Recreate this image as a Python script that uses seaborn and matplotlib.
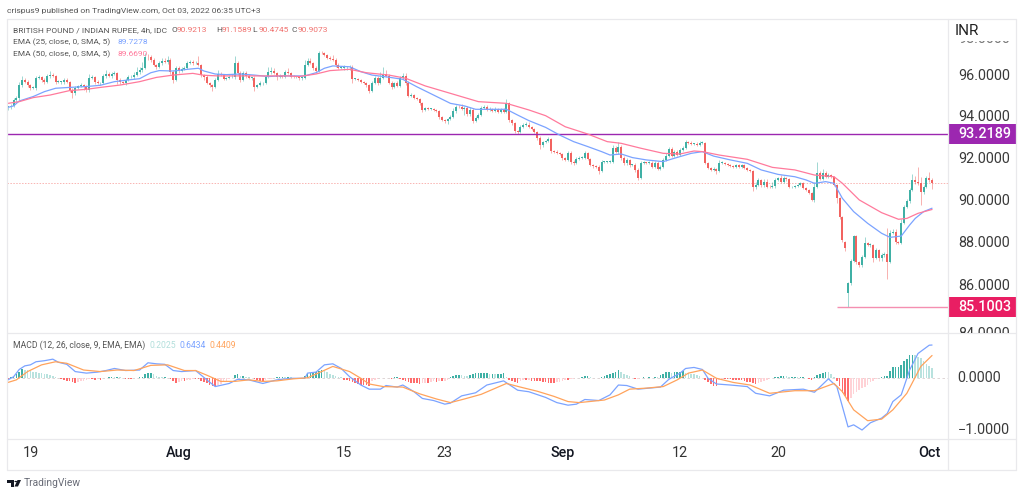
import seaborn as sns
import matplotlib.pyplot as plt
from matplotlib.lines import Line2D
from matplotlib.patches import Polygon, Circle, Rectangle
from matplotlib.transforms import Bbox

# candle closes (4h candles, left to right)
closes = [
    94.50, 94.54, 94.82, 94.90, 95.52, 95.76, 95.68, 95.52, 95.37, 95.37,
    95.84, 95.88, 95.76, 95.68, 95.95, 95.99, 95.95, 95.68, 95.68, 95.68,
    95.76, 95.68, 95.29, 95.16, 95.37, 95.48, 95.52, 95.41, 95.29, 95.84,
    95.88, 95.68, 95.60, 95.60, 95.95, 96.04, 95.95, 96.04, 96.07, 95.76,
    95.68, 95.60, 95.76, 95.88, 95.92, 95.99, 96.15, 96.23, 96.31, 96.86,
    96.82, 96.70, 96.46, 96.39, 96.54, 96.67, 96.62, 96.70, 96.15, 95.76,
    96.31, 96.20, 96.26, 96.31, 96.54, 96.62, 96.54, 96.54, 96.46, 96.00,
    95.88, 95.60, 95.52, 95.41, 95.76, 96.04, 95.99, 95.79, 95.84, 95.88,
    95.92, 96.54, 96.07, 95.76, 96.07, 95.95, 95.84, 95.84, 95.45, 95.52,
    95.60, 95.60, 95.88, 96.15, 96.20, 96.07, 95.88, 95.95, 95.88, 96.15,
    96.10, 95.92, 95.88, 95.88, 95.84, 95.84, 96.46, 96.67, 96.54, 96.31,
    96.20, 97.04, 97.01, 96.94, 96.78, 96.73, 96.70, 96.46, 96.31, 96.31,
    96.35, 96.35, 96.38, 95.79, 95.79, 95.76, 95.68, 95.63, 95.52, 95.26,
    95.63, 95.84, 95.60, 95.84, 96.04, 95.95, 95.63, 95.44, 95.60, 95.48,
    95.84, 95.95, 95.60, 95.00, 95.05, 94.93, 94.85, 94.66, 94.35, 94.43,
    94.38, 94.38, 94.35, 94.32, 94.03, 93.88, 93.85, 93.91, 94.03, 94.30,
    94.50, 94.47, 94.38, 94.43, 94.16, 94.35, 93.85, 93.96, 94.11, 94.43,
    94.47, 94.35, 94.38, 94.32, 94.38, 94.27, 94.35, 94.27, 94.66, 93.88,
    93.75, 93.38, 93.33, 93.53, 93.64, 93.66, 93.56, 93.44, 93.33, 93.02,
    92.70, 92.86, 92.91, 92.97, 92.42, 92.39, 92.31, 92.28, 92.08, 92.00,
    92.31, 91.92, 91.87, 92.03, 92.08, 92.08, 92.31, 92.03, 91.76, 91.72,
    91.65, 91.50, 91.92, 91.92, 91.92, 91.92, 92.55, 92.39, 92.63, 92.08,
    91.84, 92.00, 91.76, 91.76, 91.53, 91.14, 91.84, 91.87, 91.84, 91.84,
    91.65, 91.84, 91.56, 91.68, 92.00, 92.19, 92.50, 92.19, 92.39, 92.23,
    92.47, 92.55, 92.86, 92.81, 92.75, 92.75, 92.70, 92.78, 92.81, 91.84,
    91.61, 91.53, 91.56, 91.50, 91.87, 91.87, 91.79, 91.76, 91.71, 91.68,
    91.76, 91.65, 91.76, 91.61, 91.53, 91.50, 90.71, 90.82, 91.06, 90.82,
    90.98, 90.74, 90.71, 90.77, 91.06, 91.13, 90.98, 91.13, 91.09, 90.71,
    90.71, 90.77, 90.82, 90.90, 90.67, 90.59, 90.43, 90.12, 90.74, 91.37,
    91.09, 91.37, 91.21, 91.29, 91.21, 90.82, 90.19, 89.33, 88.24, 87.84,
    86.23, 87.26, 88.42, 87.22, 87.06, 87.45, 88.08, 88.00, 88.00, 87.37,
    87.77, 87.37, 87.53, 87.58, 87.22, 88.55, 88.63, 88.16, 88.08, 89.02,
    89.77, 90.08, 90.59, 91.06, 90.98, 90.90, 90.50, 90.74, 91.13, 91.06,
    90.91,
]

# wick lengths above and below the candle body
wick_up = [
    .05, .1, .1, .1, .15, .2, .1, .1, .05, .1,
    .1, .1, .05, .1, .1, .2, .1, .05, .1, .05,
    .1, .1, .05, .1, .1, .05, .1, .05, .1, .2,
    .1, .05, .1, .05, .1, .2, .1, .1, .1, .05,
    .1, .05, .1, .1, .05, .15, .2, .15, .3, .15,
    .1, .1, .1, .05, .1, .1, .1, .2, .1, .1,
    .1, .1, .1, .1, .1, .1, .1, .1, .35, .05,
    .05, .1, .05, .05, .1, .2, .1, .05, .05, .1,
    .1, .35, .1, .1, .1, .1, .1, .05, .1, .05,
    .1, .05, .1, .2, .15, .1, .05, .1, .05, .1,
    .15, .05, .05, .05, .05, .1, .25, .1, .1, .05,
    .1, .1, .1, .05, .05, .1, .2, .1, .1, .1,
    .1, .05, .1, .1, .05, .05, .05, .05, .05, .05,
    .1, .1, .1, .3, .35, .2, .1, .1, .05, .1,
    .1, .15, .15, .1, .1, .05, .05, .05, .05, .05,
    .05, .05, .05, .05, .05, .05, .05, .05, .1, .15,
    .1, .1, .15, .1, .1, .15, .1, .1, .1, .1,
    .1, .1, .1, .05, .1, .05, .1, .1, .2, .05,
    .05, .05, .05, .1, .1, .1, .1, .05, .05, .05,
    .1, .05, .05, .1, .05, .05, .1, .05, .05, .05,
    .1, .1, .1, .1, .1, .1, .1, .05, .05, .05,
    .05, .1, .1, .05, .05, .1, .15, .1, .2, .05,
    .1, .1, .05, .05, .1, .1, .1, .1, .05, .1,
    .1, .1, .1, .1, .1, .15, .1, .1, .1, .1,
    .1, .1, .1, .05, .1, .05, .1, .1, .1, .05,
    .05, .05, .1, .05, .15, .1, .05, .05, .05, .05,
    .05, .05, .05, .05, .05, .05, .05, .15, .1, .05,
    .1, .1, .1, .2, .1, .05, .15, .1, .05, .05,
    .05, .05, .05, .05, .05, .05, .05, .05, .2, .55,
    .1, .2, .1, .1, .05, .05, .05, .05, .05, .05,
    .05, .1, .05, .05, .05, .1, .3, .05, .1, .05,
    .1, .05, .1, .1, 1.2, .15, .1, .1, .05, .2,
    .1, .1, .1, .3, .2, .7, .3, .1, .1, .3,
    .1,
]
wick_down = [
    .15, .1, .05, .1, .1, .1, .05, .1, .1, .05,
    .1, .05, .1, .1, .05, .1, .05, .1, .05, .1,
    .1, .05, .1, .25, .1, .05, .05, .1, .1, .1,
    .05, .1, .05, .1, .05, .1, .05, .1, .05, .2,
    .1, .05, .1, .05, .05, .1, .05, .1, .1, .05,
    .1, .1, .05, .1, .05, .1, .05, .1, .1, .15,
    .05, .1, .05, .05, .05, .05, .1, .05, .05, .1,
    .1, .05, .1, .15, .05, .05, .05, .05, .05, .05,
    .05, .1, .1, .1, .05, .1, .05, .1, .2, .05,
    .05, .1, .05, .05, .1, .05, .1, .05, .05, .05,
    .05, .05, .05, .05, .1, .1, .05, .05, .05, .1,
    .1, .05, .05, .05, .05, .05, .05, .1, .05, .05,
    .1, .1, .1, .15, .05, .05, .05, .05, .1, .1,
    .05, .05, .1, .05, .05, .05, .05, .1, .05, .05,
    .05, .05, .1, .05, .05, .05, .05, .1, .1, .05,
    .05, .05, .05, .05, .1, .05, .1, .15, .05, .05,
    .1, .05, .05, .25, .1, .1, .1, .05, .05, .05,
    .05, .05, .05, .05, .05, .05, .05, .05, .05, .1,
    .1, .1, .1, .05, .05, .05, .05, .05, .05, .1,
    .2, .1, .05, .05, .1, .05, .05, .05, .1, .05,
    .05, .1, .1, .05, .05, .05, .05, .05, .05, .1,
    .05, .15, .05, .05, .05, .05, .05, .05, .1, .1,
    .1, .1, .1, .05, .1, .1, .05, .05, .05, .05,
    .05, .05, .05, .05, .05, .05, .05, .05, .05, .05,
    .05, .05, .05, .05, .05, .05, .05, .05, .05, .05,
    .05, .05, .05, .15, .05, .05, .05, .05, .05, .05,
    .05, .05, .05, .05, .05, .05, .15, .1, .05, .1,
    .1, .05, .05, .05, .1, .05, .05, .05, .1, .05,
    .05, .05, .05, .05, .05, .05, .05, .05, .1, .05,
    .05, .05, .05, .05, .05, .05, .2, .1, .1, .1,
    .63, .1, .05, .1, .1, .1, .05, .05, .1, .15,
    .05, .1, .1, .1, .8, .05, .05, .1, .05, .05,
    .05, .05, .1, .05, .1, .1, .6, .1, .05, .1,
    .3,
]

# bar of the MACD histogram for every candle
macd_hist = [
    -.01, .02, .03, .08, .13, .18, .17, .16, .14, .13,
    .12, .11, .10, .09, .08, .07, .05, .03, .01, -.02,
    -.03, -.05, -.06, -.08, -.09, -.08, -.06, -.05, -.04, -.02,
    -.02, -.03, -.02, -.03, .00, .01, .02, .03, .02, .03,
    .02, .01, -.01, -.01, -.01, .01, .01, .02, .03, .08,
    .10, .11, .08, .05, .03, .02, .02, .01, -.02, -.06,
    -.09, -.07, -.06, -.06, -.04, -.03, -.02, -.02, -.02, -.05,
    -.08, -.10, -.13, -.15, -.15, -.13, -.11, -.08, -.05, -.02,
    .01, .07, .08, .05, .05, .03, .02, .01, -.01, -.03,
    -.05, -.05, -.03, -.02, -.01, .01, .03, .03, .03, .02,
    .03, .02, .01, .00, .00, .00, .05, .08, .10, .11,
    .13, .15, .16, .14, .12, .09, .07, .05, .03, .02,
    -.03, -.04, -.05, -.08, -.10, -.11, -.13, -.13, -.13, -.14,
    -.05, -.03, -.02, .00, .01, .01, .00, -.01, .02, .02,
    -.01, -.03, -.05, -.07, -.09, -.10, -.10, -.11, -.10, -.09,
    -.09, -.07, -.06, -.07, -.06, -.06, -.05, -.03, .02, .05,
    .07, .07, .06, .05, .04, .06, .08, .10, .10, .10,
    .10, .10, .09, .09, .08, .08, .09, .10, .02, -.03,
    -.06, -.08, -.09, -.05, -.04, -.04, -.03, -.05, -.05, -.05,
    -.06, -.07, -.08, -.09, -.09, -.09, -.08, -.07, -.06, -.04,
    -.04, -.02, -.01, .00, .01, .03, .05, .05, .02, .01,
    .00, .00, .03, .05, .07, .09, .11, .13, .16, .12,
    .09, .06, .04, .01, -.02, -.01, .01, .02, .01, .02,
    .01, .03, .02, .06, .08, .12, .12, .11, .12, .13,
    .13, .15, .11, .10, .09, .08, .06, .04, .01, -.03,
    -.08, -.11, -.14, -.14, -.04, -.01, -.02, -.02, -.02, -.03,
    -.03, -.03, -.04, -.06, -.07, -.08, -.10, -.11, -.10, -.08,
    -.05, -.03, -.01, .00, .02, .03, .05, .05, .04, .03,
    .03, .03, .02, .02, .02, .01, -.01, -.03, .02, .06,
    .09, .11, .13, .12, .09, .02, -.05, -.15, -.28, -.35,
    -.43, -.38, -.30, -.26, -.22, -.19, -.16, -.12, -.08, -.05,
    -.02, .00, .02, .04, .05, .15, .21, .22, .22, .25,
    .33, .38, .45, .46, .45, .41, .39, .33, .28, .24,
    .2025,
]

# moving averages, read at the candle numbers in the *_idx lists
ema25_idx = [0, 2, 4, 9, 13, 17, 22, 28, 33, 38, 43, 47, 51, 54, 59, 64, 68, 70, 74, 78, 83, 88, 93, 97, 102,
             106, 110, 113, 116, 122, 126, 130, 136, 141, 146, 152, 158, 163, 167, 172, 178, 182, 186, 192,
             197, 202, 207, 212, 215, 219, 223, 228, 234, 238, 244, 248, 252, 258, 264, 269, 275, 281, 285,
             288, 292, 295, 298, 302, 307, 312, 315, 319, 322, 324, 327, 330]
ema25 = [94.47, 94.54, 94.77, 94.98, 95.21, 95.37, 95.41, 95.45, 95.51, 95.68, 95.76, 95.82, 96.10, 96.20, 96.18,
         96.26, 96.31, 96.18, 96.04, 96.01, 96.04, 95.99, 95.92, 95.95, 95.95, 95.95, 96.10, 96.31, 96.42, 96.38,
         96.15, 95.99, 95.89, 95.79, 95.44, 95.05, 94.66, 94.54, 94.38, 94.38, 94.38, 94.11, 93.85, 93.53, 93.17,
         92.86, 92.63, 92.39, 92.23, 92.28, 92.11, 92.00, 91.92, 92.08, 92.31, 92.39, 92.18, 92.00, 91.84, 91.53,
         91.32, 91.21, 91.06, 90.90, 90.98, 90.90, 90.19, 89.57, 89.02, 88.55, 88.36, 88.42, 88.94, 89.25, 89.57,
         89.73]
ema50_idx = [0, 4, 9, 15, 22, 28, 33, 40, 47, 53, 59, 66, 70, 75, 81, 88, 93, 100, 104, 110, 115, 122, 128, 136,
             142, 149, 158, 168, 178, 186, 192, 199, 207, 214, 219, 226, 234, 240, 245, 248, 254, 264, 273, 281,
             288, 295, 298, 304, 312, 318, 321, 325, 330]
ema50 = [94.66, 94.74, 94.93, 95.05, 95.26, 95.32, 95.41, 95.52, 95.68, 95.88, 95.99, 96.07, 95.98, 95.95, 95.95,
         95.95, 95.95, 95.95, 95.92, 96.04, 96.20, 96.26, 96.10, 95.99, 95.84, 95.48, 95.13, 94.74, 94.66, 94.35,
         94.08, 93.56, 93.22, 92.86, 92.78, 92.55, 92.31, 92.28, 92.42, 92.39, 92.23, 92.03, 91.65, 91.53, 91.29,
         91.21, 90.90, 90.12, 89.52, 89.21, 89.25, 89.49, 89.67]

macd_idx = [0, 2, 4, 6, 8, 10, 13, 16, 18, 21, 24, 28, 32, 35, 38, 42, 47, 50, 53, 56, 59, 62, 67, 71, 74, 79, 82,
            86, 91, 96, 101, 106, 107, 110, 113, 116, 119, 122, 126, 129, 133, 135, 139, 141, 145, 148, 152, 156,
            158, 162, 167, 171, 177, 182, 186, 192, 196, 200, 203, 206, 211, 215, 218, 221, 225, 233, 236, 240,
            242, 245, 248, 250, 253, 258, 264, 267, 272, 277, 284, 288, 293, 296, 298, 300, 302, 305, 308, 312,
            314, 316, 319, 322, 325, 329, 330]
macd_line = [-.03, .03, .17, .24, .26, .32, .34, .37, .31, .27, .13, .10, .12, .15, .19, .15, .16, .30, .28, .27,
             .15, .13, .15, -.03, -.16, -.10, -.02, -.03, -.10, -.03, .00, .00, .10, .12, .26, .28, .19, .03,
             -.13, -.21, -.21, -.14, -.17, -.13, -.26, -.39, -.43, -.50, -.48, -.34, -.28, -.13, -.05, -.23, -.26,
             -.37, -.47, -.52, -.50, -.41, -.43, -.32, -.13, -.14, -.21, -.17, -.02, .10, .19, .21, .17, .00, -.11,
             -.13, -.16, -.29, -.34, -.23, -.21, -.27, -.01, -.16, -.55, -.94, -.90, -1.00, -.86, -.77, -.68, -.45,
             -.32, .16, .48, .64, .6434]
signal_idx = [0, 3, 7, 12, 17, 21, 27, 33, 39, 45, 51, 57, 63, 67, 71, 76, 81, 86, 91, 96, 102, 107, 112, 116, 122,
              126, 129, 134, 141, 147, 153, 158, 163, 169, 175, 178, 183, 189, 195, 200, 204, 213, 218, 222, 228,
              234, 239, 243, 248, 253, 259, 265, 272, 281, 288, 295, 298, 302, 307, 312, 316, 321, 326, 330]
signal_line = [-.08, -.03, .13, .26, .32, .29, .16, .13, .16, .15, .25, .26, .15, .15, .06, -.06, -.06, -.03, -.06,
               -.05, -.01, .01, .13, .23, .13, .00, -.11, -.16, -.17, -.30, -.40, -.47, -.40, -.31, -.17, -.10,
               -.17, -.25, -.35, -.45, -.47, -.42, -.32, -.21, -.19, -.16, -.03, .10, .16, .00, -.08, -.13, -.29,
               -.24, -.24, -.10, -.26, -.61, -.82, -.79, -.61, -.29, .23, .4409]

price_labels = ['96.0000', '94.0000', '92.0000', '90.0000', '88.0000', '86.0000', '84.0000']
macd_ticks = [0, -1]
date_labels = ['19', 'Aug', '15', '23', 'Sep', '12', '20', 'Oct']
date_idx = [8, 61, 120, 156, 198, 240, 275, 329]
month_labels = ['Aug', 'Sep', 'Oct']

resistance = 93.2189
support = 85.1003
last_close = 90.9073

UP = '#3fb0a5'
DOWN = '#f26360'
BLUE = '#7ba3ff'
PINK = '#ff7a9c'
ORANGE = '#ffa35c'
PURPLE = '#9c27b0'
MAGENTA = '#e91e63'
FRAME = '#e9e9ec'
FONT = 'Roboto'

W, H = 1024, 495

sns.set_theme(style="white")
plt.rcParams['font.family'] = FONT


def px_rect(x0, y0, x1, y1):
    # pixel box (top-left origin) to figure fractions
    return [x0 / W, 1 - y1 / H, (x1 - x0) / W, (y1 - y0) / H]


def fx(x):
    return x / W


def fy(y):
    return 1 - y / H


def main():
    fig = plt.figure(figsize=(W / 100, H / 100), dpi=100, facecolor='white')

    ax = fig.add_axes(px_rect(7, 19, 948, 333))
    ax_macd = fig.add_axes(px_rect(7, 333, 948, 439), sharex=ax)
    for a in (ax, ax_macd):
        a.set_facecolor('none')
        for s in a.spines.values():
            s.set_visible(False)
        a.tick_params(left=False, bottom=False, labelleft=False, labelbottom=False)

    ax.set_xlim(-0.357, 335.7)
    ax.set_ylim(83.863, 98.626)
    ax_macd.set_ylim(-1.174, 0.876)

    # candles, each one opens at the previous close except after the gap
    opens = [closes[0]] + closes[:-1]
    opens[300] = 85.73
    opens[299] = 88.15
    idx = list(range(len(closes)))
    tops = [max(o, c) for o, c in zip(opens, closes)]
    bots = [min(o, c) for o, c in zip(opens, closes)]
    cols = [UP if c >= o else DOWN for o, c in zip(opens, closes)]
    highs = [t + u for t, u in zip(tops, wick_up)]
    lows = [b - d for b, d in zip(bots, wick_down)]
    ax.vlines(idx, lows, highs, colors=cols, linewidth=0.7, alpha=0.5, zorder=2)
    heights = [max(t - b, 0.04) for t, b in zip(tops, bots)]
    ax.bar(idx, heights, bottom=bots, width=0.72, color=cols, linewidth=0, zorder=3)

    # levels
    ax.axhline(resistance, color=PURPLE, linewidth=1.0, zorder=4)
    ax.axhline(last_close, color='#f9b4b2', linewidth=0.7, linestyle=(0, (1.5, 1.5)), zorder=1)
    ax.hlines(support, 296, 335.7, color='#f48fb1', linewidth=1.0, zorder=4)

    sns.lineplot(x=ema25_idx, y=ema25, ax=ax, color=BLUE, linewidth=0.9, errorbar=None, zorder=5)
    sns.lineplot(x=ema50_idx, y=ema50, ax=ax, color=PINK, linewidth=0.9, errorbar=None, zorder=5)

    # MACD histogram, pale when the bar shrinks
    hist_cols = []
    prev = 0
    for v in macd_hist:
        if v >= 0:
            hist_cols.append('#3fb0a5' if v >= prev else '#b9e2de')
        else:
            hist_cols.append('#ff6b6b' if v <= prev else '#ffd2d6')
        prev = v
    ax_macd.bar(idx, macd_hist, width=0.6, color=hist_cols, linewidth=0, zorder=2)
    ax_macd.axhline(0, color='#d8cfcf', linewidth=0.6, linestyle=(0, (3, 3)), zorder=1)
    sns.lineplot(x=macd_idx, y=macd_line, ax=ax_macd, color=BLUE, linewidth=0.9, errorbar=None, zorder=4)
    sns.lineplot(x=signal_idx, y=signal_line, ax=ax_macd, color=ORANGE, linewidth=0.9, errorbar=None, zorder=5)
    ax.set_xlabel('')
    ax.set_ylabel('')
    ax_macd.set_xlabel('')
    ax_macd.set_ylabel('')

    # frame lines
    for x0, y0, x1, y1 in [(7, 19, 1016, 19), (7, 333, 1016, 333), (7, 439, 1016, 439), (7, 470, 1016, 470),
                           (7, 19, 7, 470), (948, 19, 948, 470), (1016, 19, 1016, 470)]:
        fig.add_artist(Line2D([fx(x0), fx(x1)], [fy(y0), fy(y1)], color=FRAME, linewidth=0.9))

    # price scale on the right, the real one is logarithmic so labels sit a bit off the linear ax
    for lab, y in zip(price_labels, [76, 117, 159, 201, 243, 286, 334]):
        t = fig.text(fx(958.5), fy(y), lab, ha='left', va='center', fontsize=10.4, color='#3a3a3a')
        t.set_clip_on(True)
        t.set_clip_box(Bbox([[948, H - 333], [1016, H - 41]]))
    clipped = fig.text(fx(958.5), fy(39), '98.0000', ha='left', va='center', fontsize=10.4, color='#777777')
    clipped.set_clip_on(True)
    clipped.set_clip_box(Bbox([[948, H - 46], [1016, H - 41]]))
    fig.text(fx(954.5), fy(31), 'INR', fontsize=11, color='#222222', ha='left', va='center')

    for y, h, col, val in [(134, 20, PURPLE, '93.2189'), (307, 20, MAGENTA, '85.1003')]:
        fig.add_artist(Rectangle((fx(948), fy(y + h / 2)), 68 / W, h / H, color=col, linewidth=0,
                                 transform=fig.transFigure))
        fig.text(fx(958.5), fy(y), val, fontsize=10.4, color='white', fontweight='medium', ha='left', va='center')

    for v in macd_ticks:
        lab = f'{v:.4f}'.replace('-', '\u2212')
        fig.text(fx(957.5), fy(378.3 - v * 51.7), lab, fontsize=10.4, color='#3a3a3a', ha='left', va='center')

    # date axis
    for i, lab in zip(date_idx, date_labels):
        bold = lab in month_labels
        fig.text(fx(8 + 2.8 * i), fy(453), lab, fontsize=10.4, ha='center', va='center',
                 color='#131722' if bold else '#333333', fontweight='medium' if bold else 'normal')

    # header and legends
    fig.text(fx(7), fy(11), 'crispus9 published on TradingView.com, Oct 03, 2022 06:35 UTC+3',
             fontsize=6.1, color='#555555', ha='left', va='center')
    fig.text(fx(13), fy(30), 'BRITISH POUND / INDIAN RUPEE, 4h, IDC', fontsize=6.05, color='#555555',
             ha='left', va='center')
    for x, letter, val in [(171, 'O', '90.9213'), (216, 'H', '91.1589'), (252.5, 'L', '90.4745'), (291.5, 'C', '90.9073')]:
        fig.text(fx(x), fy(30), letter, fontsize=6.05, color='#555555', ha='left', va='center')
        fig.text(fx(x + 6), fy(30), val, fontsize=6.05, color='#f0706d', ha='left', va='center')
    fig.text(fx(13), fy(42), 'EMA (25, close, 0, SMA, 5)', fontsize=6.05, color='#555555', ha='left', va='center')
    fig.text(fx(117), fy(42), '89.7278', fontsize=6.05, color=BLUE, ha='left', va='center')
    fig.text(fx(13), fy(54), 'EMA (50, close, 0, SMA, 5)', fontsize=6.05, color='#555555', ha='left', va='center')
    fig.text(fx(117), fy(54), '89.6690', fontsize=6.05, color=PINK, ha='left', va='center')
    fig.text(fx(13), fy(345), 'MACD (12, 26, close, 9, EMA, EMA)', fontsize=6.2, color='#555555', ha='left', va='center')
    fig.text(fx(149), fy(345), '0.2025', fontsize=6.2, color='#b2dfdb', ha='left', va='center')
    fig.text(fx(179.5), fy(345), '0.6434', fontsize=6.2, color=BLUE, ha='left', va='center')
    fig.text(fx(210), fy(345), '0.4409', fontsize=6.2, color=ORANGE, ha='left', va='center')

    # footer logo and name
    logo = [Polygon([(fx(7), fy(480)), (fx(14), fy(480)), (fx(14), fy(486.5)), (fx(10.5), fy(486.5)),
                     (fx(10.5), fy(483)), (fx(7), fy(483))], closed=True),
            Polygon([(fx(17.5), fy(480)), (fx(21), fy(480)), (fx(18), fy(486.5)), (fx(14.5), fy(486.5))], closed=True),
            Circle((fx(15.8), fy(481.5)), 1.4 / W)]
    for p in logo:
        p.set_transform(fig.transFigure)
        p.set_facecolor('#131722')
        p.set_linewidth(0)
        fig.add_artist(p)
    fig.text(fx(24), fy(483), 'TradingView', fontsize=7.4, color='#6a6d78', ha='left', va='center')

    fig.savefig('out.png', dpi=100, facecolor='white')


if __name__ == "__main__":
    main()
